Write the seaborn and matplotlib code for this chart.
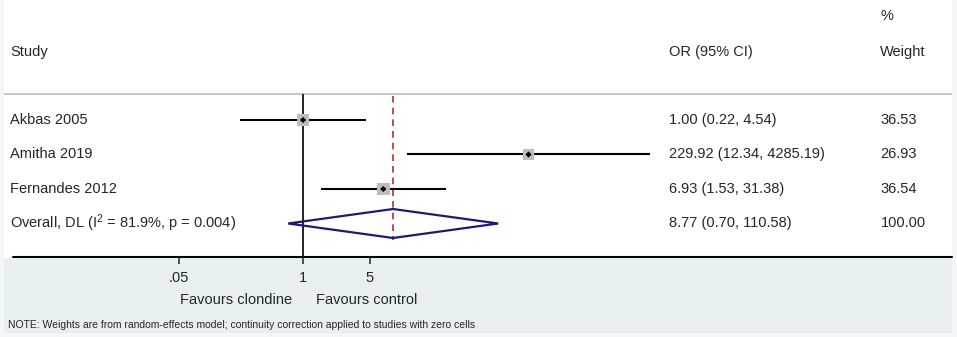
import numpy as np
import pandas as pd
import matplotlib
matplotlib.use("Agg")
import matplotlib.pyplot as plt
import matplotlib.transforms as mtransforms
from matplotlib.patches import Polygon, Rectangle
import seaborn as sns

# Study level results
studies = ["Akbas 2005", "Amitha 2019", "Fernandes 2012"]
or_est = [1.00, 229.92, 6.93]
ci_low = [0.22, 12.34, 1.53]
ci_high = [4.54, 4285.19, 31.38]
weights = [36.53, 26.93, 36.54]

# Pooled estimate (random effects, DerSimonian-Laird)
overall_label = "Overall, DL (I$^{2}$ = 81.9%, p = 0.004)"
overall_est = 8.77
overall_low = 0.70
overall_high = 110.58
overall_weight = 100.00

tick_values = [0.05, 1, 5]
tick_labels = [".05", "1", "5"]

df = pd.DataFrame({"study": studies, "OR": or_est, "lo": ci_low,
                   "hi": ci_high, "weight": weights})
df["row"] = np.arange(len(df))
overall_row = len(df)

sns.set_style("white")
plt.rcParams["font.family"] = ["Liberation Sans", "DejaVu Sans"]
plt.rcParams["mathtext.fontset"] = "custom"
plt.rcParams["mathtext.rm"] = "Liberation Sans"
plt.rcParams["mathtext.it"] = "Liberation Sans"

fig = plt.figure(figsize=(9.57, 3.37), dpi=100)
fig.patch.set_facecolor("white")

# outer light frame and shaded footer
fig.patches.append(Rectangle((0, 0), 1, 1, transform=fig.transFigure,
                             facecolor="#f3f7f8", edgecolor="none", zorder=-3))
fig.patches.append(Rectangle((4 / 957, 4 / 337), 948 / 957, 74 / 337,
                             transform=fig.transFigure, facecolor="#e7eff2",
                             edgecolor="none", zorder=-2))

ax = fig.add_axes([4 / 957, 80 / 337, 948 / 957, 257 / 337])
ax.set_facecolor("white")
ax.set_xscale("log")
ax.set_xlim(10 ** -3.131, 10 ** 6.796)
ax.set_ylim(3.971, -3.478)

header_y = -1.971
line_y = -0.754

# header separator
ax.axhline(line_y, color="#c8c8c8", lw=1.5)
# line of no effect
ax.vlines(1, line_y, 3.971, color="black", lw=1.2)
# pooled estimate reference
ax.vlines(overall_est, -0.696, 3.478, color="#b03030", lw=1.2,
          linestyles=(0, (4, 3)))

# confidence intervals
ax.hlines(df["row"], df["lo"], df["hi"], color="black", lw=1.5, zorder=3)

# weight squares and point estimates
sns.scatterplot(data=df, x="OR", y="row", size="weight", sizes=(58, 80),
                marker="s", color="#bdbdbd", edgecolor="none",
                legend=False, ax=ax, zorder=4)
sns.scatterplot(data=df, x="OR", y="row", marker="D", color="black",
                s=10, edgecolor="none", legend=False, ax=ax, zorder=5)

# pooled diamond
h = 0.42
diamond = Polygon([(overall_low, overall_row), (overall_est, overall_row - h),
                   (overall_high, overall_row), (overall_est, overall_row + h)],
                  closed=True, facecolor="none", edgecolor="#1c1c72", lw=1.6,
                  zorder=4)
ax.add_patch(diamond)

# text columns
tr = mtransforms.blended_transform_factory(ax.transAxes, ax.transData)
fs = 10.5
ax.text(0.0064, header_y, "Study", transform=tr, fontsize=fs, va="center")
ax.text(0.7015, header_y, "OR (95% CI)", transform=tr, fontsize=fs, va="center")
ax.text(0.9245, -3.014, "%", transform=tr, fontsize=fs, va="center")
ax.text(0.9245, header_y, "Weight", transform=tr, fontsize=fs, va="center")

for _, r in df.iterrows():
    ax.text(0.0064, r["row"], r["study"], transform=tr, fontsize=fs, va="center")
    ax.text(0.7015, r["row"], f"{r['OR']:.2f} ({r['lo']:.2f}, {r['hi']:.2f})",
            transform=tr, fontsize=fs, va="center")
    ax.text(0.9245, r["row"], f"{r['weight']:.2f}", transform=tr, fontsize=fs,
            va="center")

ax.text(0.0064, overall_row, overall_label, transform=tr, fontsize=fs, va="center")
ax.text(0.7015, overall_row,
        f"{overall_est:.2f} ({overall_low:.2f}, {overall_high:.2f})",
        transform=tr, fontsize=fs, va="center")
ax.text(0.9245, overall_row, f"{overall_weight:.2f}", transform=tr, fontsize=fs,
        va="center")

# axis
for side in ["top", "right", "left", "bottom"]:
    ax.spines[side].set_visible(False)
ax.axhline(3.971, xmin=9 / 948, xmax=1, color="black", lw=1.5, clip_on=False)
ax.set_xticks(tick_values)
ax.set_xticklabels(tick_labels, fontsize=fs)
ax.xaxis.set_minor_locator(matplotlib.ticker.NullLocator())
ax.tick_params(axis="x", direction="out", length=5, width=1.2, color="#333333",
               pad=5, bottom=True)
ax.set_yticks([])
ax.set_xlabel("")
ax.set_ylabel("")

ax.annotate("Favours clondine", xy=(1, 0), xycoords=("data", "axes fraction"),
            xytext=(-8, -31), textcoords="offset points", ha="right",
            va="center", fontsize=fs)
ax.annotate("Favours control", xy=(1, 0), xycoords=("data", "axes fraction"),
            xytext=(9, -31), textcoords="offset points", ha="left",
            va="center", fontsize=fs)

fig.text(8 / 957, 1 - 325 / 337,
         "NOTE: Weights are from random-effects model; continuity correction "
         "applied to studies with zero cells", fontsize=7.5, va="center")

fig.savefig("out.png", dpi=100)
